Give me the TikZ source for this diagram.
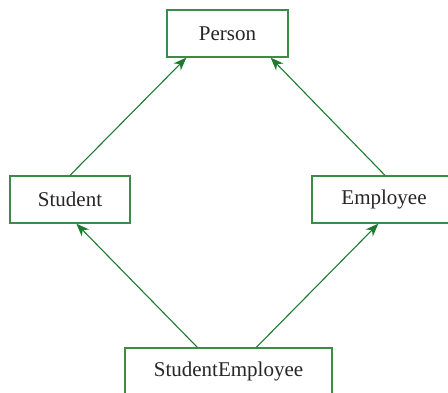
\documentclass[tikz,border=0pt]{standalone}
\usepackage{fontspec}
\setmainfont{Liberation Serif}
\usetikzlibrary{arrows.meta}
\definecolor{lgreen}{RGB}{30,122,48}
\definecolor{bgreen}{RGB}{60,140,72}
\begin{document}
\begin{tikzpicture}[x=1pt,y=-1pt,
  cls/.style={draw=bgreen,line width=1.3pt,fill=white,inner sep=0pt,
    font=\fontsize{21}{25}\selectfont,text=black!85},
  arr/.style={draw=lgreen,line width=1.1pt,-{Stealth[length=13pt,width=10pt,inset=4pt]}}]
\useasboundingbox (0,0) rectangle (448,393);
\clip (0,0) rectangle (448,393);
\node[cls,minimum width=121pt,minimum height=47pt] (person) at (227.5,33.5) {Person};
\node[cls,minimum width=120pt,minimum height=47pt] (student) at (70,199.5) {Student};
\node[cls,minimum width=144pt,minimum height=47pt] (employee) at (384,199.5) {Employee};
\node[cls,minimum width=207pt,minimum height=47pt] (se) at (228.5,371.5) {StudentEmployee};
\draw[arr] (student.north) -- ([xshift=20pt]person.south west);
\draw[arr] ([xshift=1pt]employee.north) -- ([xshift=-18pt]person.south east);
\draw[arr] ([xshift=73pt]se.north west) -- ([xshift=67pt]student.south west);
\draw[arr] ([xshift=132pt]se.north west) -- ([xshift=67pt]employee.south west);
\end{tikzpicture}
\end{document}
